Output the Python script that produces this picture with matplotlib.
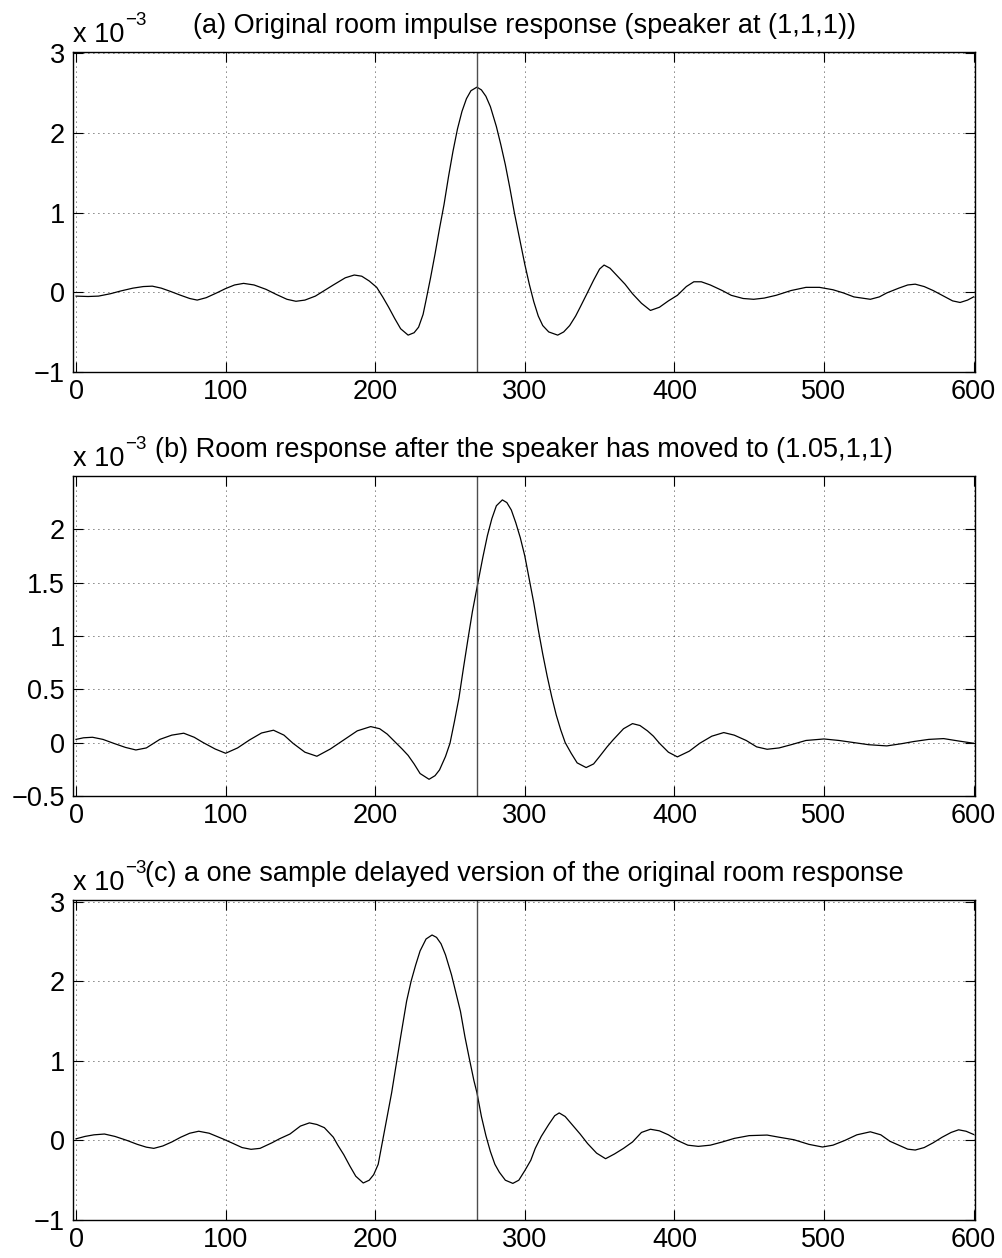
import numpy as np
import matplotlib
matplotlib.use('Agg')
import matplotlib.pyplot as plt
from matplotlib.ticker import FuncFormatter
from matplotlib.transforms import ScaledTranslation

plt.rcParams['font.family'] = ['Liberation Sans', 'DejaVu Sans']

# (a) original room impulse response, values in units of 1e-3
a_n = [0, 8, 15, 23, 30, 38, 45, 51, 57, 63, 70, 76, 81, 87, 94, 100, 106, 112, 119, 127,
       134, 141, 147, 153, 160, 166, 172, 180, 186, 191, 196, 201, 205, 209, 213, 217, 222,
       226, 229, 232, 234, 237, 240, 243, 246, 249, 252, 255, 258, 261, 264, 268, 271, 274,
       277, 281, 284, 287, 290, 293, 296, 300, 303, 306, 309, 312, 316, 322, 326, 330, 334,
       337, 341, 346, 350, 353, 357, 362, 367, 372, 378, 384, 390, 396, 402, 408, 413, 418,
       424, 432, 438, 446, 453, 460, 468, 478, 488, 497, 506, 513, 520, 531, 537, 542, 550,
       556, 561, 567, 573, 580, 586, 591, 596, 600]
a_h = [-0.05, -0.055, -0.05, -0.02, 0.015, 0.05, 0.07, 0.075, 0.05, 0.01, -0.04, -0.08, -0.10,
       -0.07, -0.01, 0.045, 0.09, 0.11, 0.09, 0.035, -0.03, -0.09, -0.115, -0.10, -0.05, 0.02,
       0.09, 0.18, 0.215, 0.20, 0.14, 0.06, -0.06, -0.19, -0.33, -0.46, -0.54, -0.51, -0.44,
       -0.28, -0.10, 0.18, 0.48, 0.80, 1.10, 1.45, 1.77, 2.05, 2.27, 2.43, 2.53, 2.575, 2.54,
       2.46, 2.33, 2.08, 1.85, 1.60, 1.31, 1.00, 0.72, 0.35, 0.10, -0.12, -0.30, -0.42, -0.50,
       -0.54, -0.50, -0.42, -0.30, -0.19, -0.04, 0.15, 0.29, 0.34, 0.30, 0.20, 0.10, -0.02,
       -0.14, -0.23, -0.19, -0.11, -0.04, 0.07, 0.13, 0.13, 0.09, 0.02, -0.04, -0.08, -0.09,
       -0.075, -0.04, 0.02, 0.06, 0.06, 0.03, -0.01, -0.06, -0.09, -0.06, -0.01, 0.05, 0.09,
       0.10, 0.07, 0.02, -0.05, -0.11, -0.13, -0.10, -0.06]

# (b) speaker moved to (1.05,1,1)
b_n = [0, 5, 11, 18, 25, 33, 40, 47, 56, 64, 72, 79, 85, 93, 100, 108, 116, 124, 132, 139,
       145, 153, 161, 170, 179, 188, 197, 203, 208, 213, 218, 222, 226, 230, 236, 240, 243,
       247, 250, 253, 256, 259, 262, 265, 268, 272, 275, 278, 281, 285, 288, 291, 294, 297,
       300, 303, 306, 309, 312, 315, 318, 321, 324, 327, 331, 335, 341, 346, 350, 355, 359,
       366, 372, 377, 382, 386, 390, 396, 402, 410, 417, 425, 433, 440, 448, 455, 462, 470,
       478, 488, 500, 510, 520, 530, 542, 552, 560, 570, 580, 590, 600]
b_h = [0.03, 0.045, 0.05, 0.03, -0.006, -0.045, -0.069, -0.05, 0.03, 0.07, 0.088, 0.05, 0.0,
       -0.06, -0.10, -0.05, 0.025, 0.09, 0.116, 0.07, -0.006, -0.09, -0.128, -0.06, 0.025,
       0.11, 0.15, 0.13, 0.08, 0.01, -0.06, -0.12, -0.20, -0.29, -0.344, -0.31, -0.256, -0.13,
       -0.006, 0.20, 0.42, 0.70, 0.97, 1.23, 1.45, 1.74, 1.94, 2.10, 2.22, 2.275, 2.25, 2.18,
       2.06, 1.92, 1.75, 1.53, 1.31, 1.06, 0.83, 0.62, 0.43, 0.26, 0.12, 0.0, -0.10, -0.19,
       -0.234, -0.20, -0.13, -0.04, 0.025, 0.13, 0.178, 0.16, 0.11, 0.06, -0.006, -0.09, -0.134,
       -0.08, -0.006, 0.06, 0.094, 0.07, 0.02, -0.04, -0.0625, -0.05, -0.02, 0.02, 0.034, 0.02,
       0.0, -0.02, -0.031, -0.01, 0.01, 0.03, 0.0375, 0.015, -0.006]

# (c) delayed version of the original response
c_n = [0, 6, 12, 19, 26, 34, 41, 47, 52, 58, 64, 70, 76, 82, 89, 98, 104, 111, 117, 123, 131,
       136, 143, 150, 156, 161, 166, 172, 175, 179, 183, 187, 192, 196, 199, 202, 205, 208,
       211, 214, 217, 221, 224, 227, 230, 234, 238, 241, 244, 247, 251, 254, 257, 260, 263,
       266, 268, 271, 274, 277, 280, 283, 287, 292, 296, 300, 304, 307, 311, 316, 320, 323,
       327, 332, 337, 342, 348, 354, 360, 366, 372, 378, 384, 390, 396, 402, 409, 416, 424,
       432, 440, 450, 462, 470, 480, 490, 499, 506, 514, 522, 531, 538, 544, 550, 556, 561,
       567, 573, 579, 585, 590, 595, 600]
c_h = [0.02, 0.05, 0.07, 0.08, 0.05, 0.0, -0.05, -0.085, -0.10, -0.07, -0.02, 0.04, 0.09,
       0.115, 0.09, 0.02, -0.03, -0.09, -0.112, -0.10, -0.03, 0.02, 0.08, 0.18, 0.22, 0.20,
       0.16, 0.04, -0.06, -0.18, -0.32, -0.45, -0.535, -0.50, -0.43, -0.30, 0.0, 0.30, 0.60,
       0.95, 1.30, 1.75, 2.00, 2.20, 2.38, 2.53, 2.58, 2.55, 2.47, 2.33, 2.08, 1.85, 1.62,
       1.30, 1.02, 0.75, 0.60, 0.30, 0.06, -0.14, -0.30, -0.40, -0.50, -0.54, -0.50, -0.38,
       -0.25, -0.10, 0.05, 0.20, 0.31, 0.345, 0.30, 0.19, 0.08, -0.04, -0.16, -0.23, -0.17,
       -0.10, -0.02, 0.10, 0.14, 0.12, 0.07, 0.0, -0.06, -0.075, -0.06, -0.02, 0.025, 0.06,
       0.067, 0.04, 0.008, -0.05, -0.083, -0.06, 0.0, 0.07, 0.108, 0.07, -0.01, -0.06, -0.11,
       -0.121, -0.09, -0.03, 0.04, 0.10, 0.133, 0.115, 0.075]

ref_n = 268

titles = ['(a) Original room impulse response (speaker at (1,1,1))',
          '(b) Room response after the speaker has moved to (1.05,1,1)',
          '(c) a one sample delayed version of the original room response']
yticks_list = [[-1, 0, 1, 2, 3], [-0.5, 0, 0.5, 1, 1.5, 2], [-1, 0, 1, 2, 3]]
ylims = [(-1, 3.02), (-0.5, 2.5), (-1, 3.02)]
xticks = [0, 100, 200, 300, 400, 500, 600]

positions = [[0.0729, 0.7045, 0.9002, 0.2544],
             [0.0729, 0.3673, 0.9002, 0.2544],
             [0.0729, 0.0302, 0.9002, 0.2544]]

fmt = FuncFormatter(lambda v, p: ('%g' % v).replace('-', '\u2212'))

fig = plt.figure(figsize=(10.02, 12.58), dpi=100)
for i, (n, h) in enumerate([(a_n, a_h), (b_n, b_h), (c_n, c_h)]):
    ax = fig.add_axes(positions[i])
    ax.plot(n, h, color='k', lw=0.9)
    ax.axvline(ref_n, color='0.3', lw=1.0)
    ax.set_xlim(-2, 601)
    ax.set_ylim(*ylims[i])
    ax.set_xticks(xticks)
    ax.set_yticks(yticks_list[i])
    ax.yaxis.set_major_formatter(fmt)
    ax.grid(True, color='k', linestyle=(0, (1, 5)), lw=0.6)
    ax.tick_params(direction='in', top=True, right=True, length=7, width=0.8,
                   labelsize=19.5)
    ax.tick_params(axis='x', pad=5)
    ax.tick_params(axis='y', pad=6)
    for s in ax.spines.values():
        s.set_linewidth(1.0)
    # MATLAB style exponent label and title
    off1 = ScaledTranslation(0, 10 / 100, fig.dpi_scale_trans)
    off_exp = ScaledTranslation(52 / 100, 27 / 100, fig.dpi_scale_trans)
    off2 = ScaledTranslation(0, 19 / 100, fig.dpi_scale_trans)
    ax.text(0, 1, 'x 10', transform=ax.transAxes + off1,
            ha='left', va='baseline', fontsize=19.5)
    ax.text(0, 1, '\u22123', transform=ax.transAxes + off_exp,
            ha='left', va='baseline', fontsize=13.5)
    ax.text(0.5, 1, titles[i], transform=ax.transAxes + off2,
            ha='center', va='baseline', fontsize=19.5)

fig.savefig('out.png', dpi=100)
